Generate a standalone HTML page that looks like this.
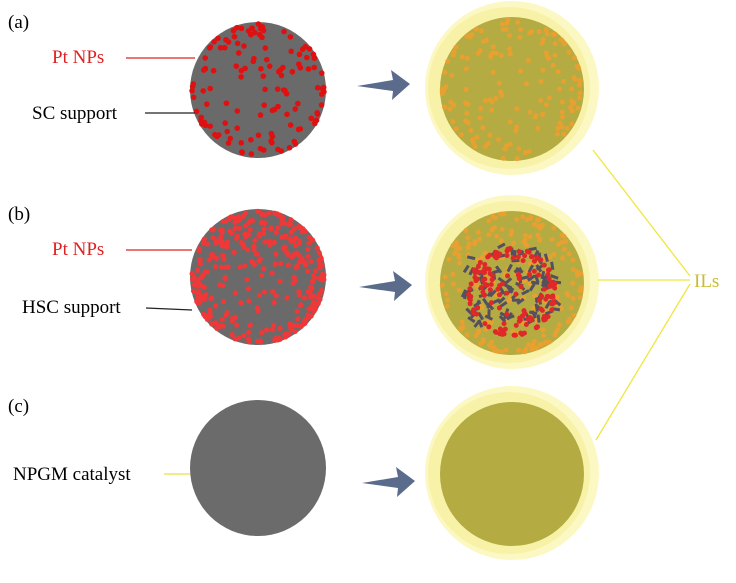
<!DOCTYPE html><html><head><style>body{margin:0;background:#fff}svg{display:block}text{font-family:"Liberation Serif",serif;font-size:19px}</style></head><body>
<svg id="s" width="736" height="583" viewBox="0 0 736 583">
<rect width="736" height="583" fill="#fff"/>
<g id="left"></g>
<text x="8" y="28" fill="#000">(a)</text>
<text x="52" y="63" fill="#e02020">Pt NPs</text>
<line x1="126" y1="58" x2="195" y2="58" stroke="#e02020" stroke-width="1.3"/>
<text x="32" y="119">SC support</text>
<line x1="145" y1="113" x2="195" y2="113" stroke="#222" stroke-width="1.3"/>
<text x="8" y="220">(b)</text>
<text x="52" y="255" fill="#e02020">Pt NPs</text>
<line x1="126" y1="250" x2="192" y2="250" stroke="#e02020" stroke-width="1.3"/>
<text x="22" y="313">HSC support</text>
<line x1="146" y1="308" x2="192" y2="310" stroke="#222" stroke-width="1.3"/>
<text x="8" y="412">(c)</text>
<text x="13" y="480">NPGM catalyst</text>
<line x1="164" y1="474" x2="190" y2="474" stroke="#e8e040" stroke-width="1.3"/>
<g fill="#5a6b8c">
<polygon points="357,86 393,80 391,70 410,84 392,100 393,91"/>
<polygon points="359,287 395,281 393,271 412,285 394,301 395,292"/>
<polygon points="362,483 398,477 396,467 415,481 397,497 398,488"/>
</g>
<g stroke="#f0e640" stroke-width="1.3" fill="none">
<line x1="593" y1="150" x2="690" y2="276"/>
<line x1="598" y1="280" x2="690" y2="280"/>
<line x1="596" y1="440" x2="690" y2="284"/>
</g>
<text x="694" y="287" fill="#c8bd30">ILs</text>
</svg>
<script>
var g=document.getElementById('left'),N='http://www.w3.org/2000/svg';
var seed=7;function r(){seed=(seed*16807)%2147483647;return seed/2147483647;}
function el(t,a){var e=document.createElementNS(N,t);for(var k in a)e.setAttribute(k,a[k]);g.appendChild(e);return e;}
function dots(cx,cy,R,n,col,rad){for(var i=0;i<n;i++){var a=r()*6.283,u=r(),d=Math.sqrt(1-u*u)*R*0.97;el('circle',{cx:cx+d*Math.cos(a),cy:cy+d*Math.sin(a),r:rad,fill:col});}}
el('circle',{cx:258,cy:90,r:68,fill:'#6a6a6a'});dots(258,90,68,130,'#e01010',2.8);
el('circle',{cx:258,cy:277,r:68,fill:'#6a6a6a'});dots(258,277,68,320,'#f03838',2.6);
el('circle',{cx:258,cy:468,r:68,fill:'#6b6b6b'});
[[512,88],[512,282],[512,473]].forEach(function(c,i){
el('circle',{cx:c[0],cy:c[1],r:87,fill:'#fcf8c4'});
el('circle',{cx:c[0]-3,cy:c[1],r:81,fill:'#f8f2a8'});
el('circle',{cx:c[0],cy:c[1]+1,r:72,fill:'#b4ac42'});
if(i<2)dots(c[0],c[1]+1,72,i?200:150,'#e8a030',2.5);
if(i==1){for(var k=0;k<120;k++){var x=c[0]-45+r()*90,y=c[1]-40+r()*80;if(y-c[1]>-40+Math.abs(x-c[0])*0.3)el('rect',{x:x,y:y,width:8,height:3,fill:'#555060',transform:'rotate('+(r()*180)+' '+x+' '+y+')'});}
dots(c[0],c[1]+10,45,150,'#e02828',2.5);}
});
</script>
</body></html>
